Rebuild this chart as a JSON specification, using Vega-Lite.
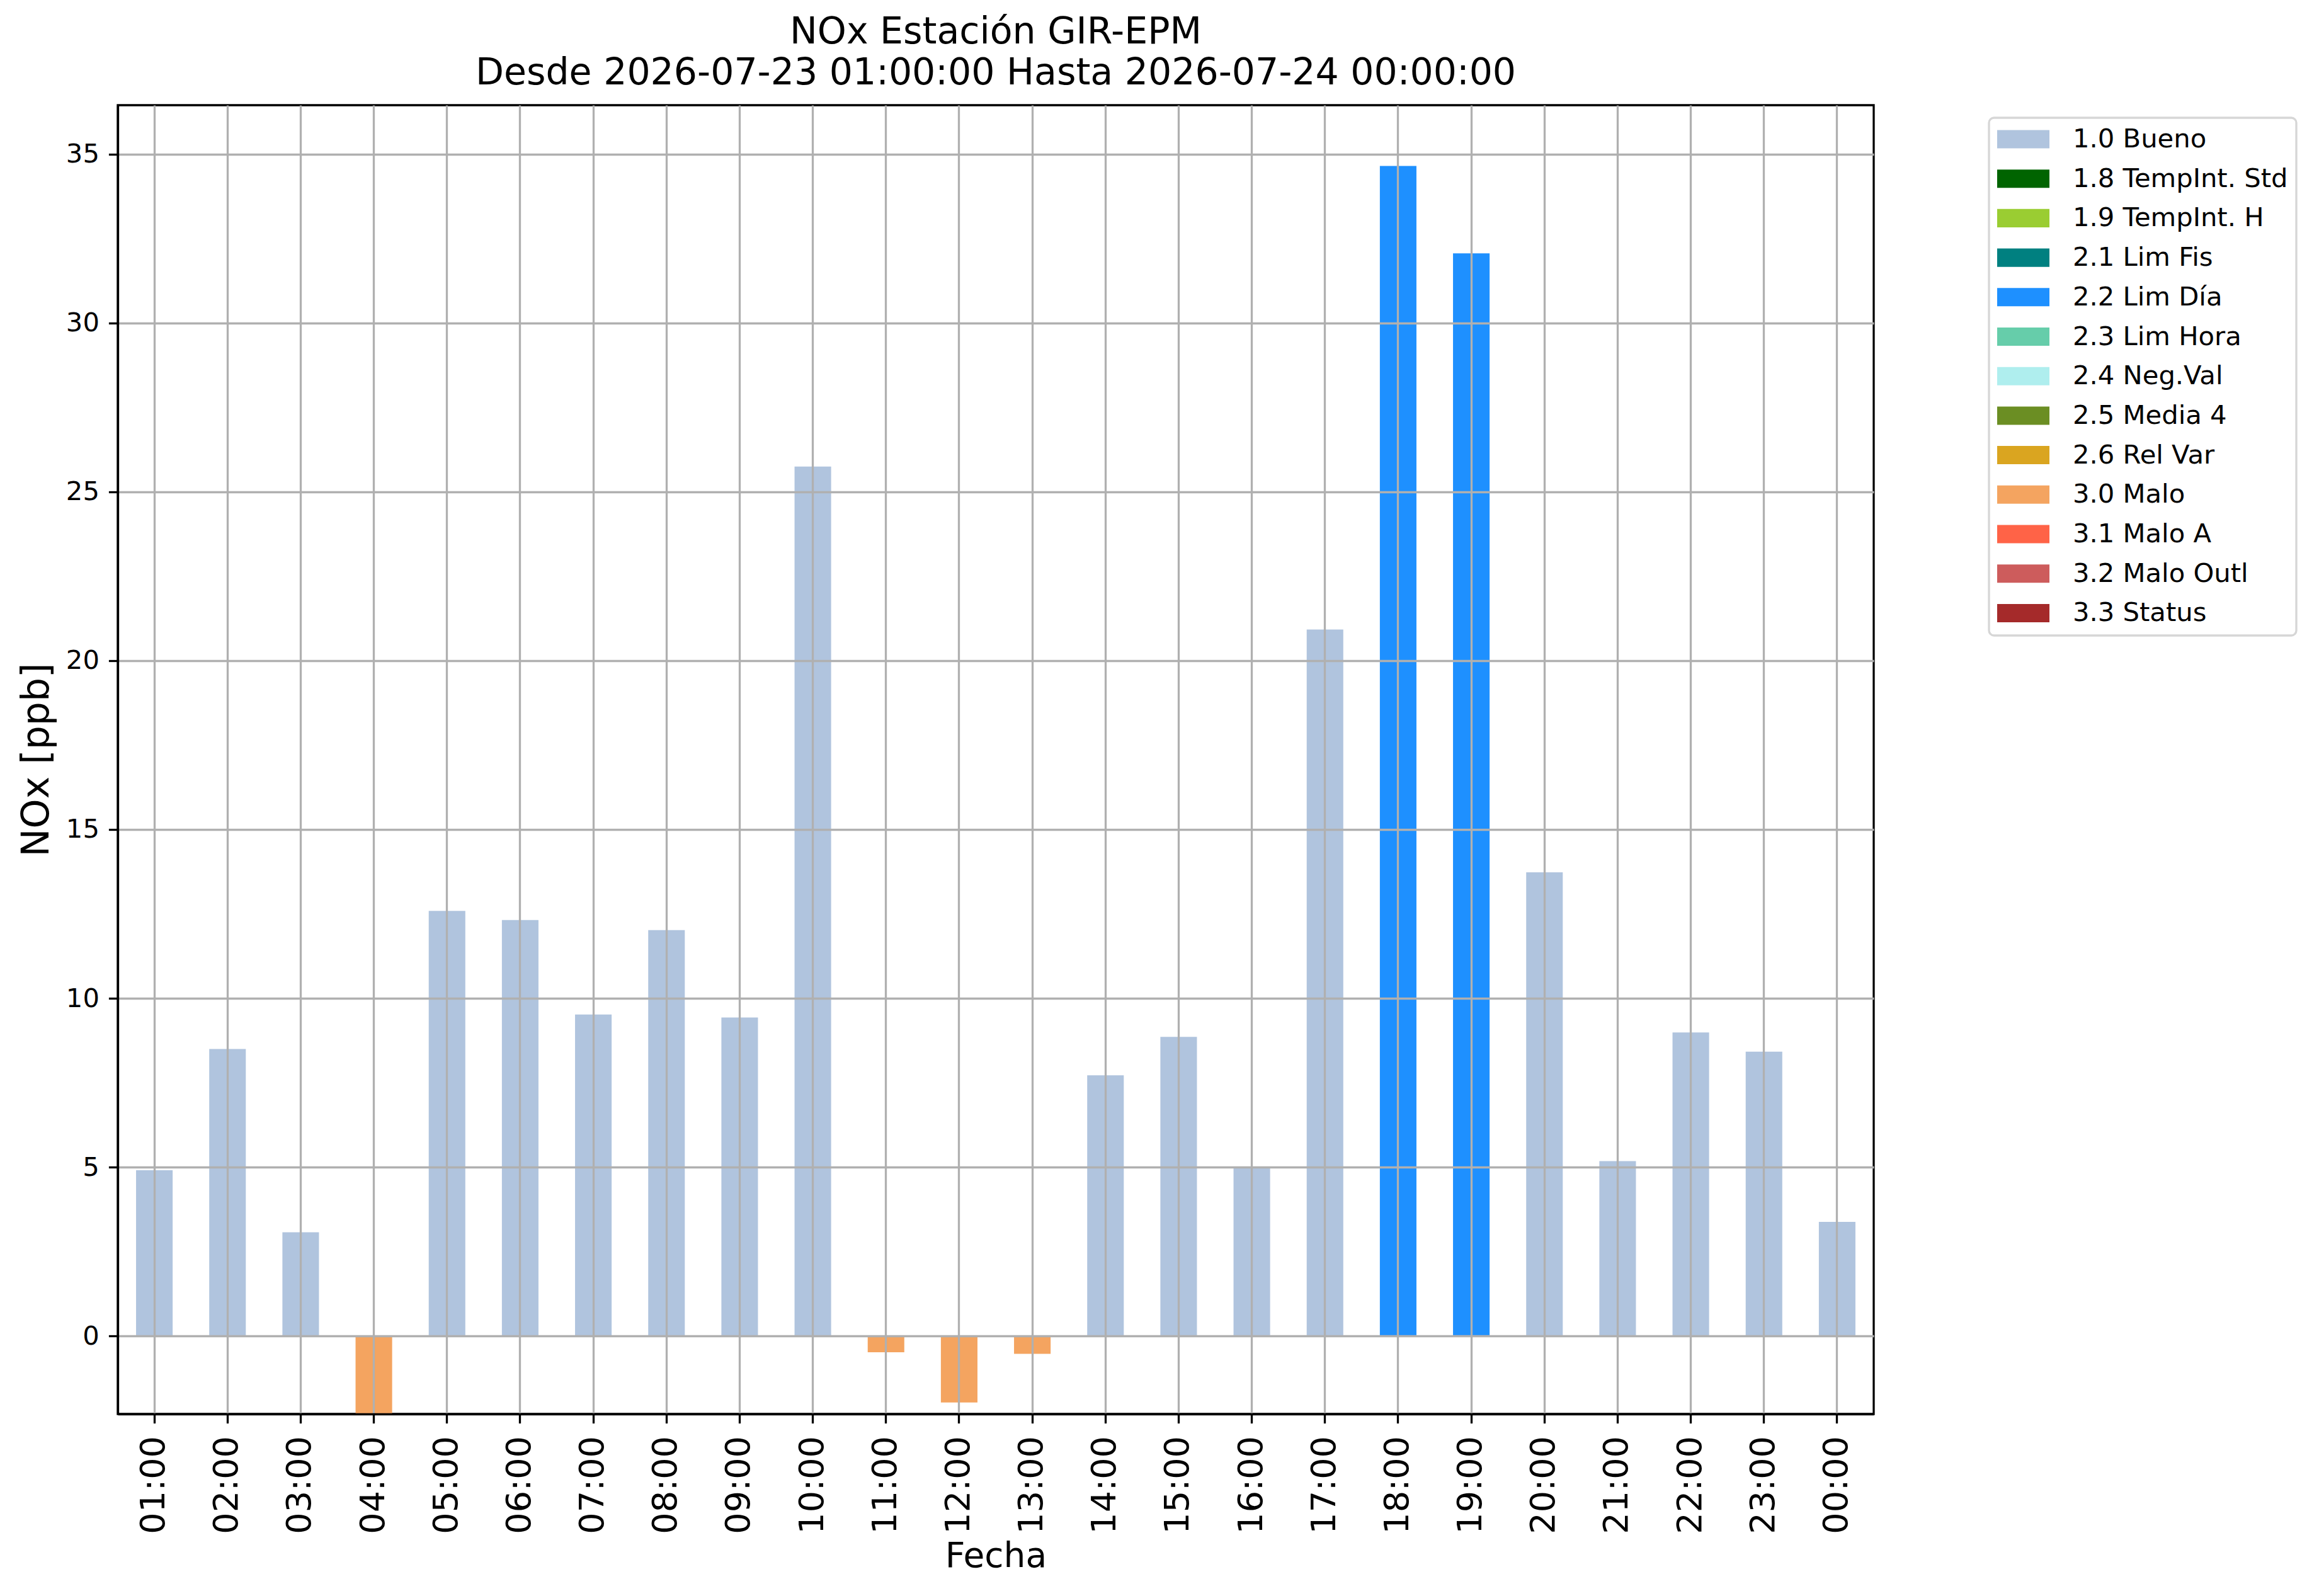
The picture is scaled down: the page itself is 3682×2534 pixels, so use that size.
{
  "$schema": "https://vega.github.io/schema/vega-lite/v6.json",
  "width": 2788,
  "height": 2078,
  "autosize": {"type": "none"},
  "padding": {"left": 187, "top": 167, "right": 707, "bottom": 289},
  "background": "white",
  "title": {
    "text": ["NOx Estación GIR-EPM", "Desde 2026-07-23 01:00:00 Hasta 2026-07-24 00:00:00"],
    "font": "DejaVu Sans",
    "fontSize": 58.5,
    "fontWeight": "normal",
    "lineHeight": 65,
    "baseline": "bottom",
    "offset": 15,
    "dy": 52,
    "anchor": "middle",
    "color": "black"
  },
  "data": {
    "values": [
      {"hora": "01:00", "nox": 4.91, "estado": "1.0 Bueno"},
      {"hora": "02:00", "nox": 8.5, "estado": "1.0 Bueno"},
      {"hora": "03:00", "nox": 3.07, "estado": "1.0 Bueno"},
      {"hora": "04:00", "nox": -2.6, "estado": "3.0 Malo"},
      {"hora": "05:00", "nox": 12.59, "estado": "1.0 Bueno"},
      {"hora": "06:00", "nox": 12.32, "estado": "1.0 Bueno"},
      {"hora": "07:00", "nox": 9.52, "estado": "1.0 Bueno"},
      {"hora": "08:00", "nox": 12.02, "estado": "1.0 Bueno"},
      {"hora": "09:00", "nox": 9.43, "estado": "1.0 Bueno"},
      {"hora": "10:00", "nox": 25.75, "estado": "1.0 Bueno"},
      {"hora": "11:00", "nox": -0.48, "estado": "3.0 Malo"},
      {"hora": "12:00", "nox": -1.97, "estado": "3.0 Malo"},
      {"hora": "13:00", "nox": -0.53, "estado": "3.0 Malo"},
      {"hora": "14:00", "nox": 7.72, "estado": "1.0 Bueno"},
      {"hora": "15:00", "nox": 8.86, "estado": "1.0 Bueno"},
      {"hora": "16:00", "nox": 5.0, "estado": "1.0 Bueno"},
      {"hora": "17:00", "nox": 20.92, "estado": "1.0 Bueno"},
      {"hora": "18:00", "nox": 34.65, "estado": "2.2 Lim Día"},
      {"hora": "19:00", "nox": 32.06, "estado": "2.2 Lim Día"},
      {"hora": "20:00", "nox": 13.73, "estado": "1.0 Bueno"},
      {"hora": "21:00", "nox": 5.18, "estado": "1.0 Bueno"},
      {"hora": "22:00", "nox": 8.99, "estado": "1.0 Bueno"},
      {"hora": "23:00", "nox": 8.42, "estado": "1.0 Bueno"},
      {"hora": "00:00", "nox": 3.38, "estado": "1.0 Bueno"}
    ]
  },
  "mark": {"type": "bar", "clip": true},
  "encoding": {
    "x": {
      "field": "hora",
      "type": "ordinal",
      "sort": null,
      "scale": {"paddingInner": 0.5, "paddingOuter": 0.25},
      "axis": {
        "title": "Fecha",
        "titleFontSize": 55,
        "titleFontWeight": "normal",
        "titleColor": "black",
        "titlePadding": 9,
        "labelAngle": 270,
        "labelFontSize": 54,
        "labelColor": "black",
        "labelPadding": 20,
        "tickSize": 14.6,
        "tickWidth": 3.3,
        "tickColor": "black",
        "domainColor": "black",
        "domainWidth": 3.3,
        "grid": true,
        "gridColor": "#b0b0b0",
        "gridWidth": 3.3,
        "bandPosition": 0.5,
        "zindex": 1
      }
    },
    "y": {
      "field": "nox",
      "type": "quantitative",
      "scale": {"domain": [-2.31, 36.45], "nice": false, "zero": false},
      "axis": {
        "title": "NOx [ppb]",
        "titleFontSize": 60,
        "titleFontWeight": "normal",
        "titleColor": "black",
        "titlePadding": 15,
        "values": [0, 5, 10, 15, 20, 25, 30, 35],
        "labelFontSize": 41.7,
        "labelColor": "black",
        "labelPadding": 15,
        "tickSize": 14.6,
        "tickWidth": 3.3,
        "tickColor": "black",
        "domainColor": "black",
        "domainWidth": 3.3,
        "grid": true,
        "gridColor": "#b0b0b0",
        "gridWidth": 3.3,
        "zindex": 1
      }
    },
    "color": {
      "field": "estado",
      "type": "nominal",
      "scale": {
        "domain": ["1.0 Bueno", "1.8 TempInt. Std", "1.9 TempInt. H", "2.1 Lim Fis", "2.2 Lim Día", "2.3 Lim Hora", "2.4 Neg.Val", "2.5 Media 4", "2.6 Rel Var", "3.0 Malo", "3.1 Malo A", "3.2 Malo Outl", "3.3 Status"],
        "range": ["#B0C4DE", "#006400", "#9ACD32", "#008080", "#1E90FF", "#66CDAA", "#AFEEEE", "#6B8E23", "#DAA520", "#F4A460", "#FF6347", "#CD5C5C", "#A52A2A"]
      },
      "legend": {
        "title": null,
        "orient": "none",
        "legendX": 2971,
        "legendY": 20,
        "symbolType": "M-1,-0.35H1V0.35H-1Z",
        "symbolSize": 6889,
        "symbolStrokeWidth": 0,
        "symbolOpacity": 1,
        "labelFontSize": 41.7,
        "labelColor": "black",
        "labelOffset": 37,
        "clipHeight": 42,
        "rowPadding": 19.7,
        "padding": 13,
        "strokeColor": "#d6d6d6",
        "cornerRadius": 8,
        "fillColor": "white",
        "labelLimit": 1000,
        "encode": {"legend": {"update": {"strokeWidth": {"value": 3.3}}}}
      }
    }
  },
  "config": {
    "font": "DejaVu Sans",
    "view": {"stroke": "black", "strokeWidth": 3.3}
  }
}
